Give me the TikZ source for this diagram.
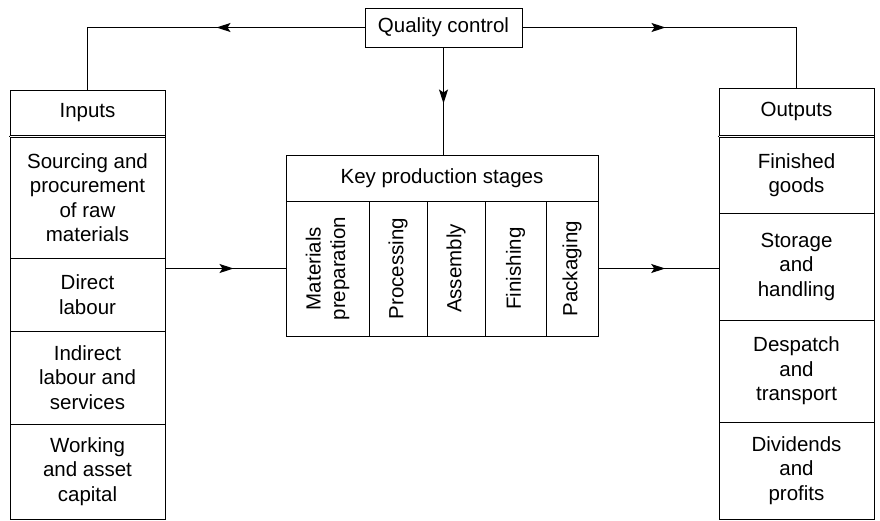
\documentclass[tikz,border=0pt]{standalone}
\usepackage{fontspec}
\setmainfont{Liberation Sans}
\usetikzlibrary{arrows.meta,decorations.markings}
\begin{document}
\begin{tikzpicture}[x=1pt,y=-1pt,
  cell/.style={draw, line width=1pt, inner sep=0pt, align=center,
    font=\fontsize{20.5}{24.5}\selectfont},
  vcell/.style={cell, rotate=90},
  conn/.style={line width=1.1pt},
  midarrow/.style={postaction={decorate}, decoration={markings,
    mark=at position #1 with {\arrow{Stealth[length=14pt,width=9pt,inset=3pt]}}}}]
\useasboundingbox (0,0) rectangle (880,520);
% Quality control
\node[cell, minimum width=157pt, minimum height=39pt] (qc) at (443.5,27.5) {Quality control};
% Inputs column
\node[cell, minimum width=155pt, minimum height=45pt] (inhead) at (87.5,112.5) {Inputs};
\node[cell, minimum width=155pt, minimum height=121pt] (in1) at (87.5,197.5) {Sourcing and\\procurement\\of raw\\materials};
\node[cell, minimum width=155pt, minimum height=73pt] (in2) at (87.5,294.5) {Direct\\labour};
\node[cell, minimum width=155pt, minimum height=93pt] (in3) at (87.5,377.5) {Indirect\\labour and\\services};
\node[cell, minimum width=155pt, minimum height=95pt] (in4) at (87.5,471.5) {Working\\and asset\\capital};
\draw[line width=1pt] (inhead.south west) -- (in1.north west) (inhead.south east) -- (in1.north east);
% Outputs column
\node[cell, minimum width=155pt, minimum height=47pt] (outhead) at (796.5,111.5) {Outputs};
\node[cell, minimum width=155pt, minimum height=76pt] (out1) at (796.5,175) {Finished\\goods};
\node[cell, minimum width=155pt, minimum height=107pt] (out2) at (796.5,266.5) {Storage\\and\\handling};
\node[cell, minimum width=155pt, minimum height=102pt] (out3) at (796.5,371) {Despatch\\and\\transport};
\node[cell, minimum width=155pt, minimum height=97pt] (out4) at (796.5,470.5) {Dividends\\and\\profits};
\draw[line width=1pt] (outhead.south west) -- (out1.north west) (outhead.south east) -- (out1.north east);
% Key production stages
\node[cell, minimum width=312pt, minimum height=46pt] (khead) at (442,178) {Key production stages};
\node[inner sep=0pt, minimum width=312pt, minimum height=135pt] (kbody) at (442,268.5) {};
\node[vcell, minimum width=135pt, minimum height=83pt] (k1) at (327.5,268.5) {Materials\\preparation};
\node[vcell, minimum width=135pt, minimum height=58pt] (k2) at (398,268.5) {Processing};
\node[vcell, minimum width=135pt, minimum height=58pt] (k3) at (456,268.5) {Assembly};
\node[vcell, minimum width=135pt, minimum height=61pt] (k4) at (515.5,268.5) {Finishing};
\node[vcell, minimum width=135pt, minimum height=52pt] (k5) at (572,268.5) {Packaging};
% Connectors
\draw[conn, midarrow=148pt] (qc.west) -| (inhead.north);
\draw[conn, midarrow=143pt] (qc.east) -| (outhead.north);
\draw[conn, midarrow=56pt] (qc.south) -- (qc.south |- khead.north);
\draw[conn, midarrow=68pt] (in1.east |- kbody.west) -- (kbody.west);
\draw[conn, midarrow=67pt] (kbody.east) -- (kbody.east -| out2.west);
\end{tikzpicture}
\end{document}
